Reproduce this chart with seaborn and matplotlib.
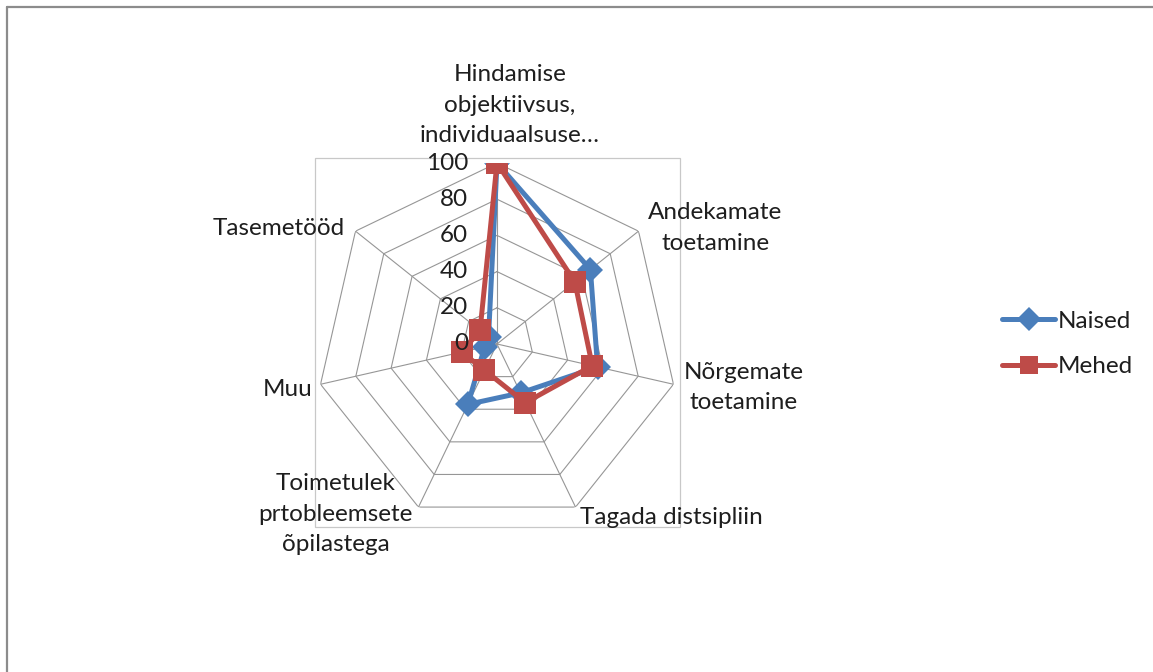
import numpy as np
import pandas as pd
import matplotlib
matplotlib.use("Agg")
import matplotlib.pyplot as plt
import seaborn as sns
from matplotlib.lines import Line2D
from matplotlib.patches import Rectangle

# --- data ---
kategooriad = [
    "Hindamise\nobjektiivsus,\nindividuaalsuse…",
    "Andekamate\ntoetamine",
    "Nõrgemate\ntoetamine",
    "Tagada distsipliin",
    "Toimetulek\nprtobleemsete\nõpilastega",
    "Muu",
    "Tasemetööd",
]
naised = [100, 66, 57, 30, 37, 7, 6]
mehed = [100, 55, 54, 36, 16, 20, 12]
r_ticks = [0, 20, 40, 60, 80, 100]

# label offsets (pixels) from each outer vertex
label_offsets = [(13, 58), (77, 3), (70, -3), (96, -10), (-83, -7), (-8, -5), (-11, 3)]
label_ha = ["center", "center", "center", "center", "center", "right", "right"]

sinine = "#4A7EBB"
punane = "#BE4B48"
grid_col = "#969696"

sns.set_style("white")
plt.rcParams["font.family"] = ["Lato", "DejaVu Sans"]
plt.rcParams["text.color"] = "#1E1E1E"
FS = 17.5

n = len(kategooriad)
theta = np.linspace(0, 2 * np.pi, n, endpoint=False)

# long-form table, loop closed by repeating first point
rows = []
for nimi, vals in [("Naised", naised), ("Mehed", mehed)]:
    for th, v in zip(list(theta) + [2 * np.pi], vals + vals[:1]):
        rows.append({"theta": th, "vaartus": v, "sugu": nimi})
df = pd.DataFrame(rows)

fig = plt.figure(figsize=(11.53, 6.72), dpi=100)

# plot area rectangle (Excel style)
fig.add_artist(Rectangle((315 / 1153, 145 / 672), 365 / 1153, 369 / 672,
                         transform=fig.transFigure, fill=False,
                         edgecolor="#C8C8C8", lw=0.9, zorder=0))
# outer chart border (only top and left visible)
fig.add_artist(Line2D([7 / 1153, 1], [1 - 7 / 672, 1 - 7 / 672],
                      transform=fig.transFigure, color="#8C8C8C", lw=1.6))
fig.add_artist(Line2D([7 / 1153, 7 / 1153], [0, 1 - 7 / 672],
                      transform=fig.transFigure, color="#8C8C8C", lw=1.6))

cx, cy, R = 497, 344, 181
ax = fig.add_axes([(cx - R) / 1153, (672 - cy - R) / 672, 2 * R / 1153, 2 * R / 672],
                  projection="polar")
ax.set_theta_zero_location("N")
ax.set_theta_direction(-1)
ax.set_ylim(0, 100)
ax.grid(False)
ax.spines["polar"].set_visible(False)
ax.set_xticks([])
ax.set_yticks([])
ax.patch.set_alpha(0)

# heptagon grid and spokes
closed = np.append(theta, theta[0])
for t in r_ticks[1:]:
    ax.plot(closed, [t] * len(closed), color=grid_col, lw=0.8, zorder=1)
for th in theta:
    ax.plot([th, th], [0, 100], color=grid_col, lw=0.8, zorder=1)

sns.lineplot(data=df, x="theta", y="vaartus", hue="sugu", style="sugu",
             palette={"Naised": sinine, "Mehed": punane},
             markers={"Naised": "D", "Mehed": "s"}, dashes=False,
             sort=False, estimator=None, legend=False, ax=ax,
             linewidth=3.6, markersize=13, markeredgewidth=0, zorder=3)
# bigger squares for Mehed, as in the reference
for line in ax.get_lines():
    if line.get_marker() == "s":
        line.set_markersize(15.5)
ax.set_xlabel("")
ax.set_ylabel("")

# radial tick labels
for t in r_ticks:
    ax.annotate(str(t), xy=(0, t), xytext=(-29, 0), textcoords="offset pixels",
                ha="right", va="center", fontsize=FS)

# category labels
for th, lab, off, ha in zip(theta, kategooriad, label_offsets, label_ha):
    ax.annotate(lab, xy=(th, 100), xytext=off, textcoords="offset pixels",
                ha=ha, va="center", multialignment="center",
                fontsize=FS, linespacing=1.55, annotation_clip=False)

handles = [
    Line2D([], [], color=sinine, lw=3.6, marker="D", markersize=12, markeredgewidth=0),
    Line2D([], [], color=punane, lw=3.6, marker="s", markersize=13, markeredgewidth=0),
]
fig.legend(handles, ["Naised", "Mehed"], loc="center left",
           bbox_to_anchor=(980 / 1153, 1 - 344 / 672), frameon=False,
           fontsize=FS, handlelength=2.2, handletextpad=0.1, labelspacing=1.0)

fig.savefig("out.png", dpi=100)
